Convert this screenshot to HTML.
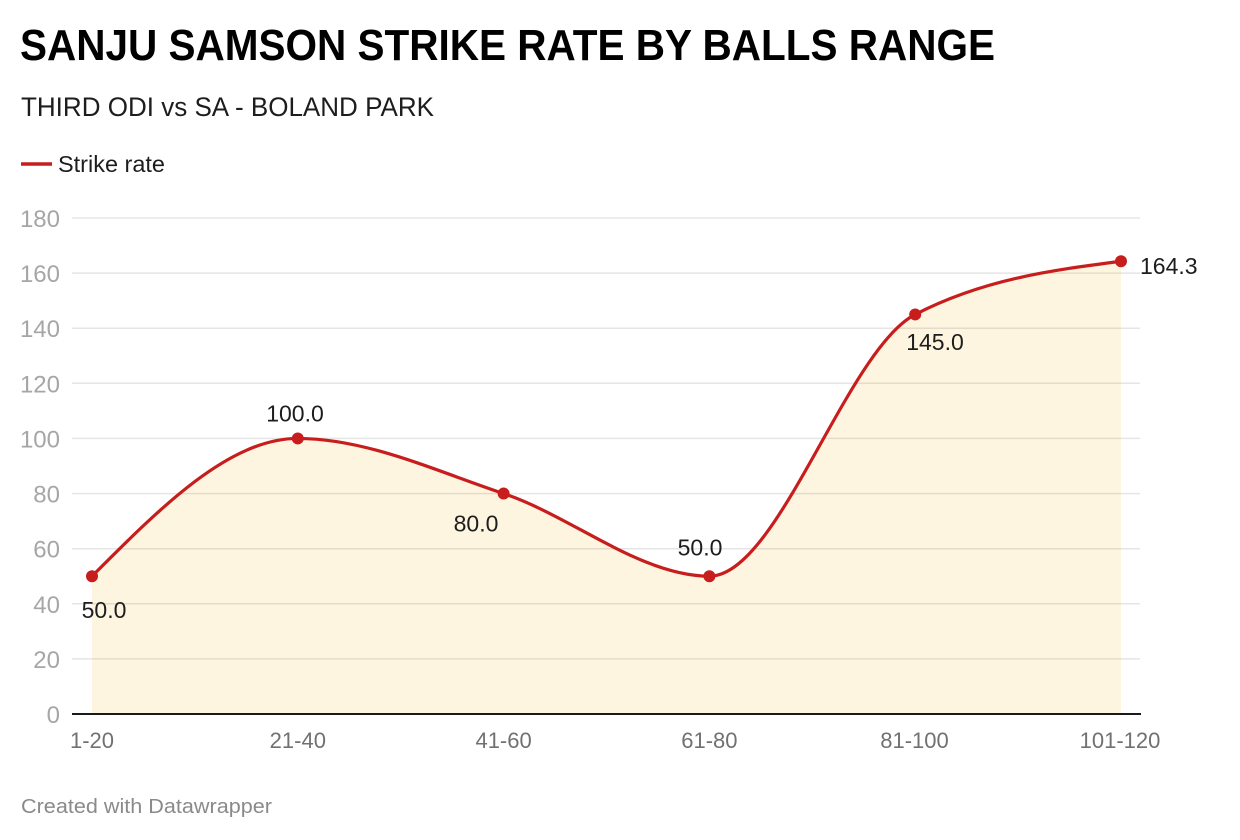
<!DOCTYPE html>
<html>
<head>
<meta charset="utf-8">
<style>
  html, body { margin: 0; padding: 0; background: #ffffff; }
  svg { display: block; }
  text { font-family: "Liberation Sans", Arial, sans-serif; }
</style>
</head>
<body>
<svg width="1240" height="840" viewBox="0 0 1240 840" xmlns="http://www.w3.org/2000/svg">
  <rect x="0" y="0" width="1240" height="840" fill="#ffffff"/>

  <!-- Title & subtitle -->
  <text x="20" y="60" font-size="44" font-weight="bold" fill="#000" textLength="975" lengthAdjust="spacingAndGlyphs">SANJU SAMSON STRIKE RATE BY BALLS RANGE</text>
  <text x="21" y="116" font-size="27" fill="#1d1d1d" textLength="413" lengthAdjust="spacingAndGlyphs">THIRD ODI vs SA - BOLAND PARK</text>

  <!-- Legend -->
  <line x1="21" y1="164" x2="52" y2="164" stroke="#c71e1d" stroke-width="3.5"/>
  <text x="58" y="172" font-size="23" fill="#1d1d1d" textLength="107" lengthAdjust="spacingAndGlyphs">Strike rate</text>

  <!-- Area fill -->
  <path d="M92,576.22 C160.6,507.33 229.2,438.44 297.8,438.44 C366.4,438.44 435.0,470.59 503.6,493.56 C572.2,516.53 640.8,576.22 709.4,576.22 C778.0,576.22 846.6,349.89 915.2,314.44 C983.8,278.99 1052.4,270.13 1121,261.27 L1121,714 L92,714 Z" fill="#fef5e0"/>

  <!-- Gridlines -->
  <g stroke="rgba(0,0,0,0.1)" stroke-width="1.5">
    <line x1="72" y1="218" x2="1140" y2="218"/>
    <line x1="72" y1="273.1" x2="1140" y2="273.1"/>
    <line x1="72" y1="328.2" x2="1140" y2="328.2"/>
    <line x1="72" y1="383.3" x2="1140" y2="383.3"/>
    <line x1="72" y1="438.4" x2="1140" y2="438.4"/>
    <line x1="72" y1="493.6" x2="1140" y2="493.6"/>
    <line x1="72" y1="548.7" x2="1140" y2="548.7"/>
    <line x1="72" y1="603.8" x2="1140" y2="603.8"/>
    <line x1="72" y1="658.9" x2="1140" y2="658.9"/>
  </g>
  <!-- Baseline -->
  <line x1="72" y1="714" x2="1141" y2="714" stroke="#1a1a1a" stroke-width="2"/>

  <!-- Y tick labels -->
  <g font-size="24" fill="#a6a6a6" text-anchor="end">
    <text x="60" y="227">180</text>
    <text x="60" y="282.1">160</text>
    <text x="60" y="337.2">140</text>
    <text x="60" y="392.3">120</text>
    <text x="60" y="447.4">100</text>
    <text x="60" y="502.6">80</text>
    <text x="60" y="557.7">60</text>
    <text x="60" y="612.8">40</text>
    <text x="60" y="667.9">20</text>
    <text x="60" y="723">0</text>
  </g>

  <!-- X tick labels -->
  <g font-size="22" fill="#717171" text-anchor="middle">
    <text x="92" y="748">1-20</text>
    <text x="297.8" y="748">21-40</text>
    <text x="503.6" y="748">41-60</text>
    <text x="709.4" y="748">61-80</text>
    <text x="914.5" y="748">81-100</text>
    <text x="1120" y="748">101-120</text>
  </g>

  <!-- Line -->
  <path d="M92,576.22 C160.6,507.33 229.2,438.44 297.8,438.44 C366.4,438.44 435.0,470.59 503.6,493.56 C572.2,516.53 640.8,576.22 709.4,576.22 C778.0,576.22 846.6,349.89 915.2,314.44 C983.8,278.99 1052.4,270.13 1121,261.27" fill="none" stroke="#c71e1d" stroke-width="3.2" stroke-linecap="round" stroke-linejoin="round"/>

  <!-- Dots -->
  <g fill="#c71e1d">
    <circle cx="92" cy="576.22" r="6"/>
    <circle cx="297.8" cy="438.44" r="6"/>
    <circle cx="503.6" cy="493.56" r="6"/>
    <circle cx="709.4" cy="576.22" r="6"/>
    <circle cx="915.2" cy="314.44" r="6"/>
    <circle cx="1121" cy="261.27" r="6"/>
  </g>

  <!-- Value labels -->
  <g font-size="23" fill="#1d1d1d" text-anchor="middle">
    <text x="104" y="618">50.0</text>
    <text x="295" y="421.5">100.0</text>
    <text x="476" y="531.5">80.0</text>
    <text x="700" y="555.5">50.0</text>
    <text x="935" y="350">145.0</text>
  </g>
  <text x="1140" y="274" font-size="23" fill="#1d1d1d">164.3</text>

  <!-- Footer -->
  <text x="21" y="813" font-size="20" fill="#8a8a8a" textLength="251" lengthAdjust="spacingAndGlyphs">Created with Datawrapper</text>
</svg>
</body>
</html>
